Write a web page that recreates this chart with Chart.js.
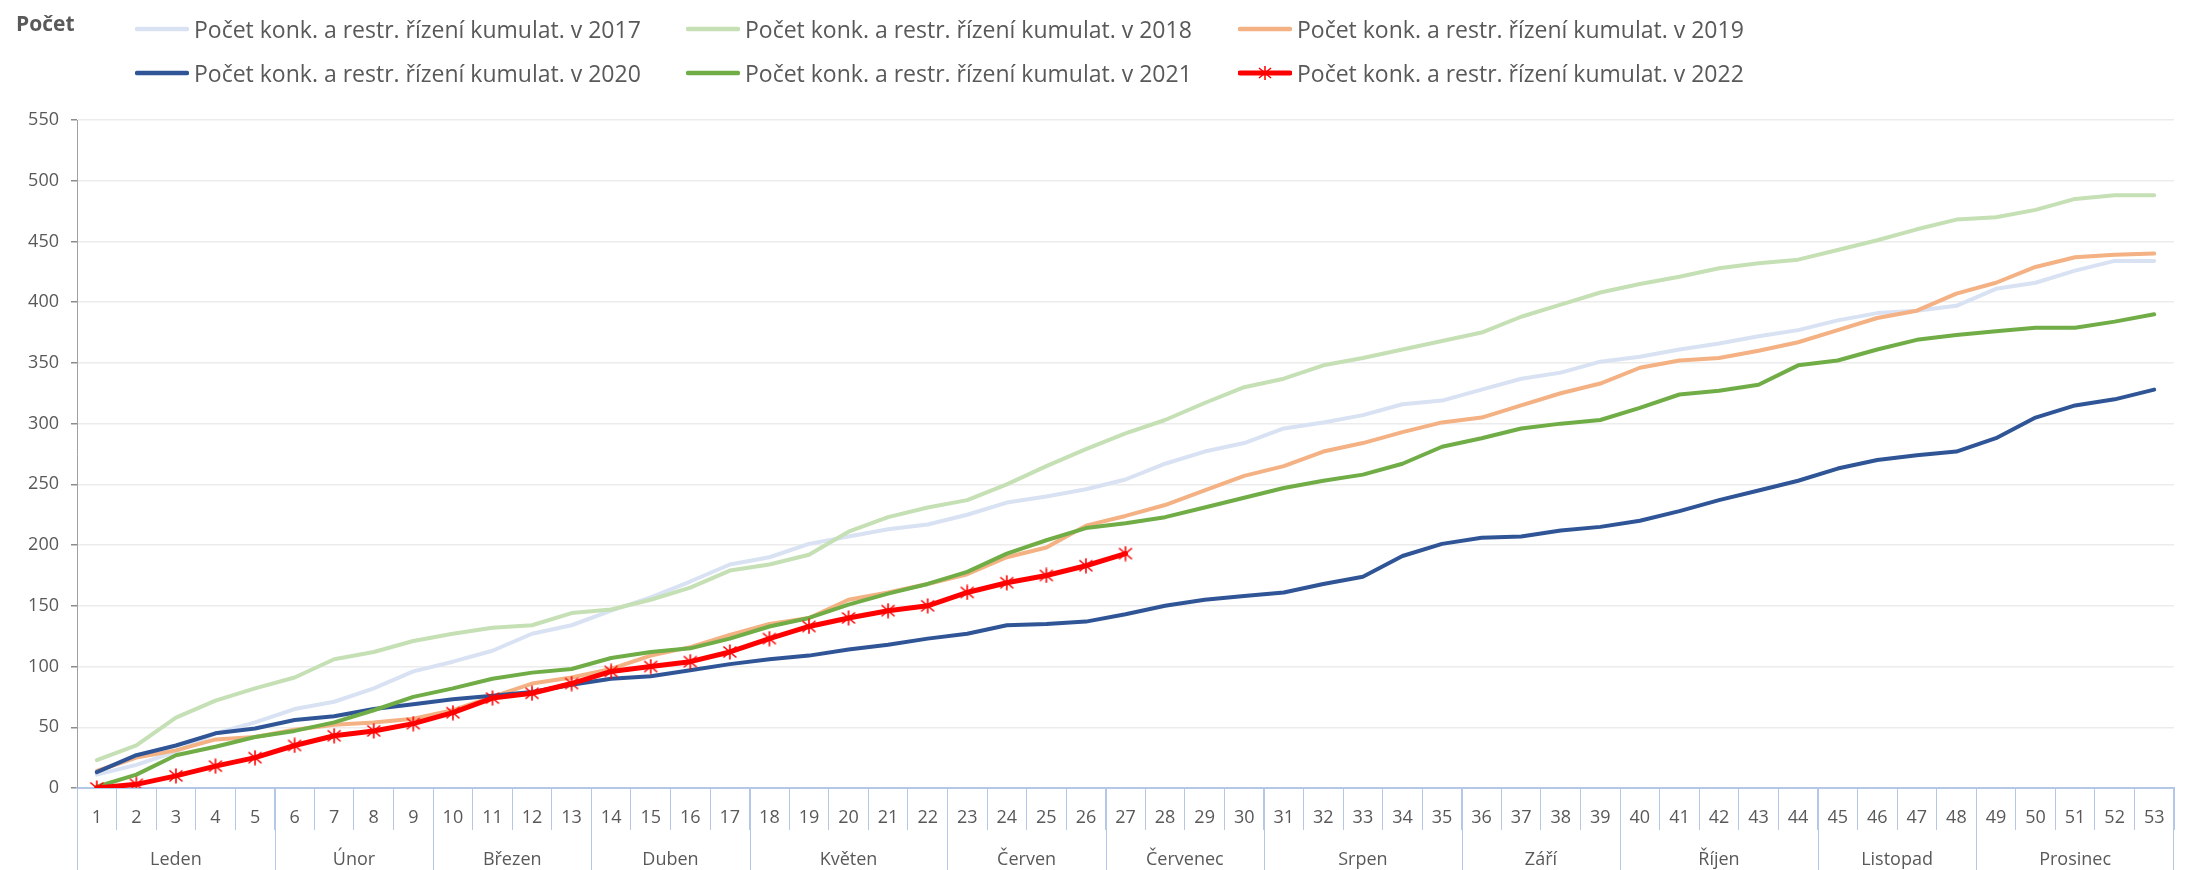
<!DOCTYPE html>
<html lang="cs">
<head>
<meta charset="utf-8">
<title>Počet konk. a restr. řízení kumulat.</title>
<script src="https://cdn.jsdelivr.net/npm/chart.js@4.4.1/dist/chart.umd.min.js"></script>
<style>
    html, body { margin: 0; padding: 0; background: #ffffff; }
    #wrap { position: relative; width: 2187px; height: 870px; overflow: hidden; }
    #chart { position: absolute; left: 0; top: 0; }
    #axis-title { position: absolute; left: 16px; top: 9px; font: bold 21px "Open Sans", sans-serif; color: #595959; }
    #custom-chart-legend { position: absolute; left: 135px; top: 7px; display: grid; grid-template-columns: 551px 552px 551px; grid-auto-rows: 44px; }
    .legend-item { display: flex; align-items: center; font: 23px "Open Sans", sans-serif; color: #595959; white-space: nowrap; }
    .legend-item svg { margin-right: 5px; flex: none; }
</style>
</head>
<body>
<div id="wrap">
    <canvas id="chart" width="2187" height="870"></canvas>
    <div id="axis-title">Počet</div>
    <div id="custom-chart-legend"></div>
</div>
<script>
// týdny 1..53
const weeks = Array.from({ length: 53 }, (_, i) => String(i + 1));

// měsíce pod osou x a počet týdnů v každém z nich
const monthNames = ["Leden", "Únor", "Březen", "Duben", "Květen", "Červen", "Červenec", "Srpen", "Září", "Říjen", "Listopad", "Prosinec"];
const monthWeeks = [5, 4, 4, 4, 5, 4, 4, 5, 4, 5, 4, 5];

const yTicks = [0, 50, 100, 150, 200, 250, 300, 350, 400, 450, 500, 550];

const seriesLabels = [
    "Počet konk. a restr. řízení kumulat. v 2017",
    "Počet konk. a restr. řízení kumulat. v 2018",
    "Počet konk. a restr. řízení kumulat. v 2019",
    "Počet konk. a restr. řízení kumulat. v 2020",
    "Počet konk. a restr. řízení kumulat. v 2021",
    "Počet konk. a restr. řízení kumulat. v 2022"
];

const values2017 = [11, 19, 30, 45, 54, 65, 71, 82, 96, 104, 113, 127, 134, 146, 157, 170, 184, 190, 201, 207, 213, 217, 225, 235, 240, 246, 254,
    267, 277, 284, 296, 301, 307, 316, 319, 328, 337, 342, 351, 355, 361, 366, 372, 377, 385, 391, 393, 397, 411, 416, 426, 434, 434];
const values2018 = [23, 35, 58, 72, 82, 91, 106, 112, 121, 127, 132, 134, 144, 147, 155, 165, 179, 184, 192, 211, 223, 231, 237, 250, 265, 279, 292,
    303, 317, 330, 337, 348, 354, 361, 368, 375, 388, 398, 408, 415, 421, 428, 432, 435, 443, 451, 460, 468, 470, 476, 485, 488, 488];
const values2019 = [14, 25, 31, 40, 42, 48, 52, 54, 57, 64, 75, 86, 91, 98, 109, 116, 126, 135, 140, 155, 161, 168, 176, 190, 198, 216, 224,
    233, 245, 257, 265, 277, 284, 293, 301, 305, 315, 325, 333, 346, 352, 354, 360, 367, 377, 387, 393, 407, 416, 429, 437, 439, 440];
const values2020 = [13, 27, 35, 45, 49, 56, 59, 65, 69, 73, 76, 79, 85, 90, 92, 97, 102, 106, 109, 114, 118, 123, 127, 134, 135, 137, 143,
    150, 155, 158, 161, 168, 174, 191, 201, 206, 207, 212, 215, 220, 228, 237, 245, 253, 263, 270, 274, 277, 288, 305, 315, 320, 328];
const values2021 = [1, 11, 27, 34, 42, 47, 54, 64, 75, 82, 90, 95, 98, 107, 112, 115, 123, 133, 140, 151, 160, 168, 178, 193, 204, 214, 218,
    223, 231, 239, 247, 253, 258, 267, 281, 288, 296, 300, 303, 313, 324, 327, 332, 348, 352, 361, 369, 373, 376, 379, 379, 384, 390];
const values2022 = [0, 3, 10, 18, 25, 35, 43, 47, 53, 62, 74, 78, 86, 96, 100, 104, 112, 123, 133, 140, 146, 150, 161, 169, 175, 183, 193];

const seriesValues = [values2017, values2018, values2019, values2020, values2021, values2022];
const seriesColors = ["#d9e2f3", "#c5e0b4", "#f4b183", "#2f5597", "#70ad47", "#ff0000"];

const FONT = '"Open Sans", sans-serif';
const TEXT_GRAY = "#595959";
const AXIS_BLUE = "#b4c7e7";

// Excel-like asterisk marker: vertical bar + X
function makeAsteriskMarker(color) {
    const size = 16;
    const c = document.createElement("canvas");
    c.width = size;
    c.height = size;
    const g = c.getContext("2d");
    g.strokeStyle = color;
    g.lineWidth = 1.6;
    g.beginPath();
    g.moveTo(size / 2, 0.5); g.lineTo(size / 2, size - 0.5);
    g.moveTo(1.5, 2.5); g.lineTo(size - 1.5, size - 2.5);
    g.moveTo(size - 1.5, 2.5); g.lineTo(1.5, size - 2.5);
    g.stroke();
    return c;
}

// month labels + long separators under the week numbers
const monthAxisPlugin = {
    id: "monthAxis",
    afterDraw(chart) {
        const x = chart.scales.x;
        const ctx = chart.ctx;
        const bottom = chart.height;
        ctx.save();
        ctx.strokeStyle = AXIS_BLUE;
        ctx.lineWidth = 1;
        ctx.fillStyle = TEXT_GRAY;
        ctx.font = `18px ${FONT}`;
        ctx.textAlign = "center";
        ctx.textBaseline = "middle";
        let start = 0;
        monthNames.forEach((name, idx) => {
            const end = start + monthWeeks[idx];
            const left = x.getPixelForValue(start - 0.5);
            ctx.beginPath();
            ctx.moveTo(Math.round(left) + 0.5, x.top);
            ctx.lineTo(Math.round(left) + 0.5, bottom);
            ctx.stroke();
            ctx.fillText(name, x.getPixelForValue((start + end - 1) / 2), 860);
            start = end;
        });
        const right = x.getPixelForValue(start - 0.5);
        ctx.beginPath();
        ctx.moveTo(Math.round(right) - 0.5, x.top);
        ctx.lineTo(Math.round(right) - 0.5, bottom);
        ctx.stroke();
        ctx.restore();
    }
};

const asterisk = makeAsteriskMarker(seriesColors[5]);

const datasets = seriesLabels.map((label, idx) => {
    const isCurrent = idx === seriesLabels.length - 1;
    return {
        label: label,
        data: seriesValues[idx],
        borderColor: seriesColors[idx],
        backgroundColor: seriesColors[idx],
        borderWidth: isCurrent ? 5 : 4,
        tension: 0,
        borderJoinStyle: "round",
        borderCapStyle: "round",
        pointRadius: isCurrent ? 8 : 0,
        pointHoverRadius: isCurrent ? 8 : 0,
        pointStyle: isCurrent ? asterisk : "circle",
        order: seriesLabels.length - idx
    };
});

new Chart(document.getElementById("chart"), {
    type: "line",
    data: { labels: weeks, datasets: datasets },
    options: {
        responsive: false,
        animation: false,
        layout: { padding: { top: 120, right: 0, left: 0, bottom: 0 } },
        plugins: {
            legend: { display: false },
            tooltip: { enabled: false }
        },
        scales: {
            x: {
                type: "category",
                offset: true,
                afterFit: (scale) => { scale.height = 82; },
                grid: {
                    display: true,
                    drawOnChartArea: false,
                    offset: true,
                    tickLength: 42,
                    color: AXIS_BLUE,
                    lineWidth: 1
                },
                border: { display: true, color: AXIS_BLUE, width: 2 },
                ticks: {
                    autoSkip: false,
                    maxRotation: 0,
                    padding: -23,
                    color: TEXT_GRAY,
                    font: { family: FONT, size: 18 }
                }
            },
            y: {
                min: 0,
                max: 550,
                afterFit: (scale) => { scale.width = 77; },
                afterBuildTicks: (scale) => { scale.ticks = yTicks.map(v => ({ value: v })); },
                grid: {
                    color: "#ececec",
                    lineWidth: 1.5,
                    tickLength: 6,
                    tickColor: "#8c8c8c"
                },
                border: { display: true, color: "#a0a0a0", width: 1 },
                ticks: {
                    padding: 12,
                    color: TEXT_GRAY,
                    font: { family: FONT, size: 18 }
                }
            }
        }
    },
    plugins: [monthAxisPlugin]
});

function renderCustomHtmlLegend(labels, colors) {
    const legendBox = document.getElementById("custom-chart-legend");
    let htmlString = "";
    labels.forEach((label, idx) => {
        const isCurrent = idx === labels.length - 1;
        const marker = isCurrent
            ? `<path d="M27 5 V19 M21 7 L33 17 M33 7 L21 17" stroke="${colors[idx]}" stroke-width="1.5"/>`
            : "";
        htmlString += `
            <div class="legend-item">
                <svg width="54" height="24" viewBox="0 0 54 24">
                    <line x1="2" y1="12" x2="52" y2="12" stroke="${colors[idx]}" stroke-width="${isCurrent ? 5 : 4.5}" stroke-linecap="round"/>
                    ${marker}
                </svg>
                <span>${label}</span>
            </div>
        `;
    });
    legendBox.innerHTML = htmlString;
}

renderCustomHtmlLegend(seriesLabels, seriesColors);
</script>
</body>
</html>
